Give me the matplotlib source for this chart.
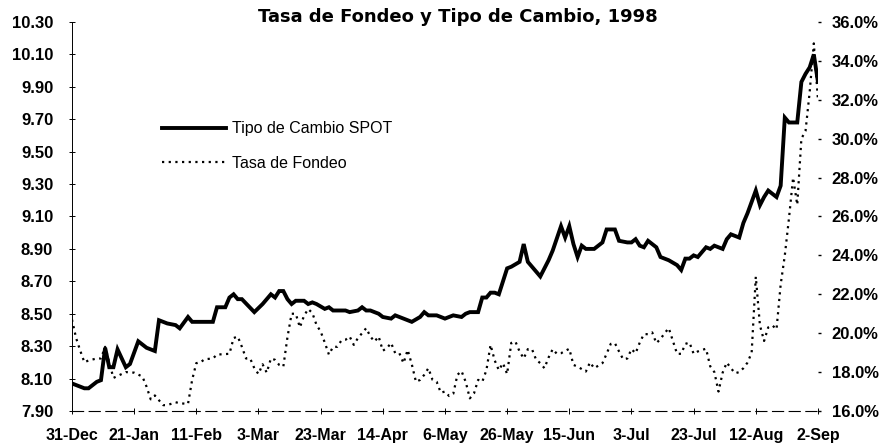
import matplotlib
matplotlib.use("Agg")
import matplotlib.pyplot as plt
from matplotlib.ticker import FuncFormatter

plt.rcParams['font.family'] = ['Liberation Sans', 'DejaVu Sans']

### etiquetas del eje x (una cada 15 dias habiles)
etiquetas = ['31-Dec', '21-Jan', '11-Feb', '3-Mar', '23-Mar', '14-Apr', '6-May',
             '26-May', '15-Jun', '3-Jul', '23-Jul', '12-Aug', '2-Sep']
paso = 15

### tipo de cambio spot (dia habil, valor)
dias_spot = [0, 3, 4, 6, 7, 8, 9, 10, 11, 13, 14, 16, 18, 20, 21, 23, 25, 26, 28, 29,
             31, 34, 35, 37, 38, 39, 40, 41, 44, 46, 48, 49, 50, 51, 52, 53, 54, 56, 57, 58,
             59, 61, 62, 63, 64, 66, 67, 69, 70, 71, 72, 74, 75, 77, 78, 79, 80, 82, 84, 85,
             86, 88, 90, 92, 94, 95, 96, 98, 99, 100, 101, 102, 103, 105, 106, 108, 109, 110, 113, 115,
             116, 118, 119, 120, 121, 122, 123, 124, 126, 128, 129, 131, 132, 134, 135, 136, 137, 138, 139, 141,
             142, 144, 146, 147, 148, 149, 150, 151, 153, 154, 155, 157, 158, 159, 161, 162, 163, 165, 166, 167,
             168, 170, 171, 172, 173, 175, 176, 177, 178, 179, 180]
spot = [8.07, 8.04, 8.04, 8.08, 8.09, 8.29, 8.17, 8.17, 8.28, 8.17, 8.19, 8.33, 8.29, 8.27, 8.46, 8.44, 8.43, 8.41, 8.48, 8.45,
        8.45, 8.45, 8.54, 8.54, 8.60, 8.62, 8.59, 8.59, 8.51, 8.56, 8.62, 8.60, 8.64, 8.64, 8.59, 8.56, 8.58, 8.58, 8.56, 8.57,
        8.56, 8.53, 8.54, 8.52, 8.52, 8.52, 8.51, 8.52, 8.54, 8.52, 8.52, 8.50, 8.48, 8.47, 8.49, 8.48, 8.47, 8.45, 8.48, 8.51,
        8.49, 8.49, 8.47, 8.49, 8.48, 8.50, 8.51, 8.51, 8.60, 8.60, 8.63, 8.63, 8.62, 8.78, 8.79, 8.82, 8.93, 8.82, 8.73, 8.83,
        8.89, 9.04, 8.97, 9.04, 8.93, 8.85, 8.92, 8.90, 8.90, 8.94, 9.02, 9.02, 8.95, 8.94, 8.94, 8.96, 8.92, 8.91, 8.95, 8.91,
        8.85, 8.83, 8.80, 8.77, 8.84, 8.84, 8.86, 8.85, 8.91, 8.90, 8.92, 8.90, 8.96, 8.99, 8.97, 9.06, 9.12, 9.26, 9.17, 9.22,
        9.26, 9.22, 9.29, 9.71, 9.68, 9.68, 9.93, 9.98, 10.02, 10.10, 9.93]

### tasa de fondeo (%)
dias_fondeo = [0, 1, 2, 3, 4, 6, 7, 8, 10, 13, 15, 17, 18, 19, 20, 22, 23, 25, 26, 28,
               29, 30, 31, 32, 34, 35, 38, 39, 40, 41, 42, 43, 44, 45, 46, 47, 48, 49, 50, 51,
               52, 53, 54, 55, 56, 57, 58, 59, 60, 61, 62, 63, 64, 65, 66, 67, 68, 69, 70, 71,
               72, 73, 74, 75, 76, 77, 78, 79, 80, 81, 82, 83, 84, 85, 86, 87, 88, 89, 90, 91,
               92, 93, 94, 95, 96, 97, 98, 99, 100, 101, 102, 103, 104, 105, 106, 107, 108, 109, 110, 111,
               112, 113, 114, 115, 116, 117, 118, 120, 121, 122, 124, 125, 126, 128, 129, 130, 131, 132, 133, 134,
               135, 136, 137, 138, 139, 140, 141, 142, 143, 144, 145, 146, 147, 148, 149, 150, 151, 152, 153, 154,
               155, 156, 157, 158, 159, 160, 161, 162, 163, 164, 165, 166, 167, 168, 169, 170, 171, 172, 173, 174,
               175, 176, 177, 178, 179, 180]
fondeo = [20.7, 19.75, 19.1, 18.5, 18.6, 18.7, 18.7, 19.3, 17.7, 18.0, 17.97, 17.77, 17.25, 16.6, 16.8, 16.3, 16.3, 16.45, 16.4, 16.36,
          17.6, 18.46, 18.5, 18.66, 18.7, 18.9, 18.94, 19.75, 19.83, 19.3, 18.7, 18.7, 18.2, 17.9, 18.4, 17.97, 18.7, 18.63, 18.37, 18.28,
          19.8, 21.0, 21.0, 20.3, 20.9, 21.24, 21.04, 20.43, 20.09, 19.52, 18.9, 19.3, 19.3, 19.62, 19.66, 19.83, 19.4, 19.75, 20.0, 20.26,
          19.83, 19.57, 19.83, 19.1, 19.23, 19.5, 18.97, 18.97, 18.46, 19.14, 18.4, 17.5, 17.6, 17.86, 18.2, 17.6, 17.5, 16.94, 17.0, 16.77,
          16.88, 17.86, 18.05, 17.5, 16.65, 16.9, 17.6, 17.5, 18.1, 19.4, 18.6, 18.1, 18.46, 17.9, 19.5, 19.57, 19.06, 18.7, 19.18, 19.18,
          18.63, 18.46, 18.2, 18.75, 19.18, 18.94, 18.97, 19.2, 18.37, 18.28, 18.03, 18.5, 18.2, 18.46, 18.94, 19.45, 19.49, 19.06, 18.66, 18.7,
          19.18, 18.97, 19.52, 19.95, 19.95, 20.04, 19.49, 19.7, 20.0, 20.26, 19.6, 18.94, 18.94, 19.45, 19.52, 18.94, 19.06, 19.14, 19.2, 18.3,
          18.0, 17.0, 17.97, 18.49, 18.2, 17.94, 18.0, 18.2, 18.49, 19.0, 22.9, 20.4, 19.6, 20.3, 20.4, 20.2, 22.5, 24.0, 25.9, 28.0,
          26.6, 30.0, 30.4, 32.4, 34.9, 32.0]

fig = plt.figure(figsize=(8.84, 4.46), dpi=100)
ax = fig.add_axes([0.0814, 0.0785, 0.8439, 0.8722])
ax2 = ax.twinx()

l1, = ax.plot(dias_spot, spot, color='black', lw=2.8, solid_joinstyle='miter', label='Tipo de Cambio SPOT')
l2, = ax2.plot(dias_fondeo, fondeo, color='black', lw=1.6, linestyle=(0, (1, 2)), label='Tasa de Fondeo')

ax.set_xlim(0, paso * (len(etiquetas) - 1))
ax.set_ylim(7.90, 10.30)
ax2.set_ylim(16.0, 36.0)

ax.set_xticks([i * paso for i in range(len(etiquetas))])
ax.set_xticklabels(etiquetas)
ax.set_yticks([7.90 + 0.2 * i for i in range(13)])
ax.yaxis.set_major_formatter(FuncFormatter(lambda v, p: f'{v:.2f}'))
ax2.set_yticks([16 + 2 * i for i in range(11)])
ax2.yaxis.set_major_formatter(FuncFormatter(lambda v, p: f'{v:.1f}%'))

for a in (ax, ax2):
    for s in ('top', 'right'):
        a.spines[s].set_visible(False)
ax2.spines['left'].set_visible(False)
ax2.spines['bottom'].set_visible(False)
ax.spines['left'].set_linewidth(0.7)
ax.spines['bottom'].set_linewidth(0.8)
ax.spines['bottom'].set_linestyle((0, (10, 5)))

ax.tick_params(axis='y', direction='inout', length=5, width=0.7, pad=11, labelsize=12)
ax.tick_params(axis='x', direction='inout', length=5, width=0.7, pad=10, labelsize=11.5)
ax2.tick_params(axis='y', direction='out', length=2, width=1, pad=8, labelsize=12)
for lab in ax.get_xticklabels() + ax.get_yticklabels() + ax2.get_yticklabels():
    lab.set_fontweight('bold')

fig.text(458 / 884, 1 - 17 / 446, 'Tasa de Fondeo y Tipo de Cambio, 1998', ha='center', va='center',
         fontsize=13, fontweight='bold', family='DejaVu Sans')

ax.legend(handles=[l1, l2], loc='upper left', bbox_to_anchor=(0.11, 0.765), frameon=False,
          fontsize=11.5, handlelength=4.0, handletextpad=0.4, labelspacing=1.2, borderpad=0)

fig.savefig('out.png', dpi=100)
